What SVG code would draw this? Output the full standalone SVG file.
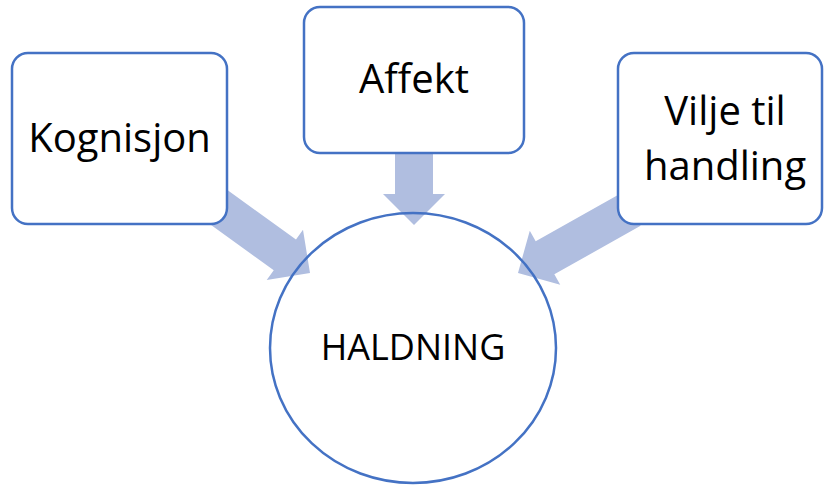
<svg xmlns="http://www.w3.org/2000/svg" width="824" height="485" viewBox="0 0 824 485">
<style>
.box{fill:#ffffff;stroke:#4472C4;stroke-width:2.5}
.ring{fill:none;stroke:#4472C4;stroke-width:2.5}
.arr{fill:#B0BEE0}
.t{font-family:"Open Sans","Noto Sans",sans-serif;font-size:40px;fill:#000;text-anchor:middle}
</style>
<defs>
<polygon id="ah" points="-130,-19 -31,-19 -31,-31 0,0 -31,31 -31,19 -130,19"/>
</defs>
<g id="haldning-bg"><ellipse cx="413" cy="348" rx="143" ry="135" fill="#ffffff"/></g>
<g id="connectors">
<use href="#ah" class="arr" transform="translate(310,273) rotate(35.8)"/>
<use href="#ah" class="arr" transform="translate(414,225) rotate(90)"/>
<use href="#ah" class="arr" transform="translate(518,273) rotate(150.6)"/>
</g>
<g id="haldning">
<ellipse class="ring" cx="413" cy="348" rx="143" ry="135"/>
<text class="t" x="413" y="360" style="font-size:36px">HALDNING</text>
</g>
<g id="kognisjon">
<rect class="box" x="12" y="53" width="215" height="171" rx="16"/>
<text class="t" x="119.5" y="152">Kognisjon</text>
</g>
<g id="affekt">
<rect class="box" x="304" y="7" width="220" height="146" rx="16"/>
<text class="t" x="414" y="93">Affekt</text>
</g>
<g id="vilje">
<rect class="box" x="618" y="53" width="204" height="171" rx="16"/>
<text class="t" x="725" y="125">Vilje til</text>
<text class="t" x="725" y="180">handling</text>
</g>
</svg>
